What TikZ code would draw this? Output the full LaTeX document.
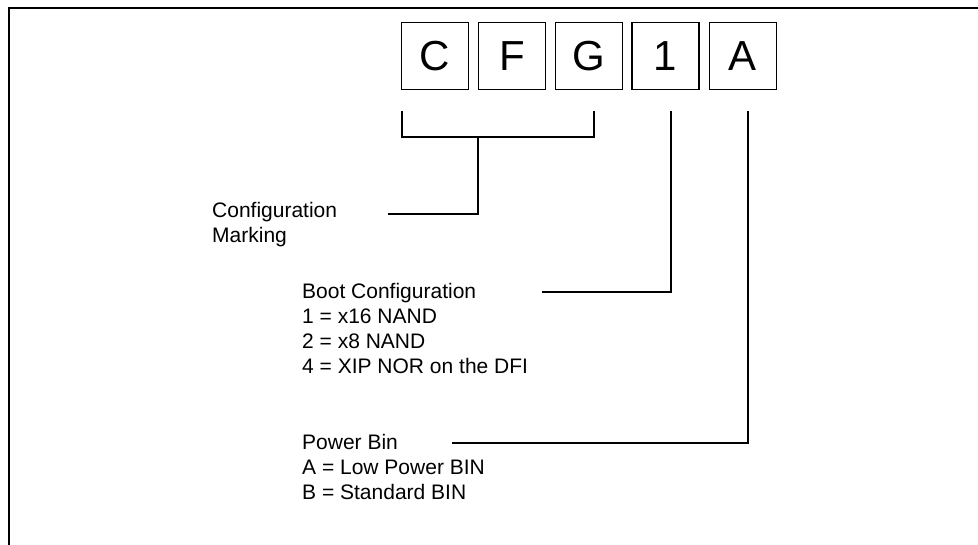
\documentclass[tikz,border=0pt]{standalone}
\usepackage{fontspec}
\setmainfont{Liberation Sans}
\begin{document}
\begin{tikzpicture}[x=1pt,y=-1pt,
  box/.style={draw,line width=1.2pt,minimum width=67pt,minimum height=67pt,inner sep=0pt,font=\fontsize{42}{50}\selectfont},
  lbl/.style={anchor=base west,inner sep=0pt,font=\fontsize{21}{25}\selectfont},
  conn/.style={line width=1.3pt}]
\useasboundingbox (0,0) rectangle (978,544);
\begin{scope}
  \clip (0,0) rectangle (978,544);
  \draw[line width=2.2pt] (9,8) rectangle (1000,600);
\end{scope}
% boxes
\node[box] (bC) at (435,56) {C};
\node[box] (bF) at (512,56) {F};
\node[box] (bG) at (589,56) {G};
\node[box] (b1) at (665.5,56) {1};
\node[box] (bA) at (743,56) {A};
% labels
\node[lbl] (cfg1) at (212,217) {Configuration};
\node[lbl] (cfg2) at (212,242) {Marking};
\node[lbl] (boot0) at (302,298) {Boot Configuration};
\node[lbl] (boot1) at (302,323) {1 = x16 NAND};
\node[lbl] (boot2) at (302,348) {2 = x8 NAND};
\node[lbl] (boot3) at (302,373) {4 = XIP NOR on the DFI};
\node[lbl] (pwr0) at (302,449) {Power Bin};
\node[lbl] (pwr1) at (302,474) {A = Low Power BIN};
\node[lbl] (pwr2) at (302,499) {B = Standard BIN};
% connector end points
\coordinate (brL) at (402,111);
\coordinate (brR) at (594,111);
\coordinate (brM) at (478,137);
\coordinate (cfgL) at (388,214);
\coordinate (oneT) at (671,111);
\coordinate (bootL) at (542,292);
\coordinate (aT) at (748,111);
\coordinate (pwrL) at (452,443);
% connectors
\draw[conn] (brL) |- (brR |- brM) -- (brR);
\draw[conn] (cfgL) -| (brM);
\draw[conn] (bootL) -| (oneT);
\draw[conn] (pwrL) -| (aT);
\end{tikzpicture}
\end{document}
